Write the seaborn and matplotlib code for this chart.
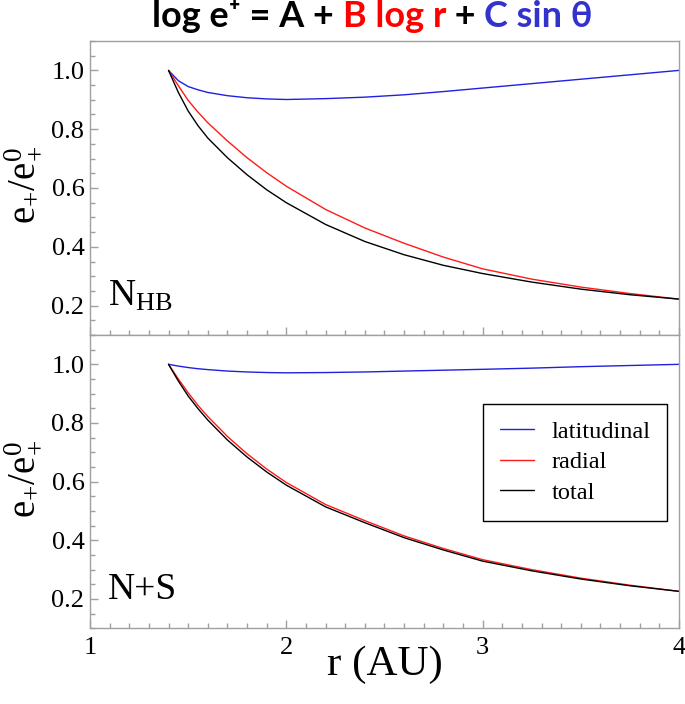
import matplotlib
matplotlib.use("Agg")
import matplotlib.pyplot as plt
import seaborn as sns
import pandas as pd
from matplotlib.ticker import MultipleLocator, FormatStrFormatter

# ---------------- data ----------------
r = [1.4, 1.45, 1.5, 1.55, 1.6, 1.7, 1.8, 1.9, 2.0, 2.2, 2.4, 2.6, 2.8, 3.0, 3.25, 3.5, 3.75, 4.0]

top_lat = [1.0, 0.965, 0.945, 0.934, 0.925, 0.914, 0.907, 0.903, 0.901, 0.904, 0.909, 0.917, 0.928, 0.940, 0.955, 0.970, 0.985, 1.0]
top_rad = [1.0, 0.948, 0.898, 0.858, 0.822, 0.760, 0.703, 0.652, 0.606, 0.527, 0.464, 0.412, 0.365, 0.325, 0.290, 0.263, 0.241, 0.222]
top_tot = [1.0, 0.925, 0.862, 0.812, 0.770, 0.703, 0.645, 0.594, 0.550, 0.476, 0.418, 0.373, 0.337, 0.309, 0.280, 0.256, 0.237, 0.222]

bot_lat = [1.0, 0.994, 0.989, 0.985, 0.982, 0.977, 0.974, 0.972, 0.971, 0.972, 0.974, 0.977, 0.980, 0.983, 0.987, 0.992, 0.996, 1.0]
bot_rad = [1.0, 0.950, 0.903, 0.860, 0.822, 0.754, 0.695, 0.643, 0.597, 0.522, 0.467, 0.415, 0.372, 0.334, 0.300, 0.271, 0.247, 0.226]
bot_tot = [1.0, 0.943, 0.892, 0.849, 0.810, 0.742, 0.684, 0.633, 0.588, 0.514, 0.460, 0.409, 0.367, 0.329, 0.296, 0.268, 0.245, 0.226]

components = ["latitudinal", "radial", "total"]
panel_labels = [r"$\mathrm{N}_{\mathrm{HB}}$", "N+S"]
x_ticks = [1, 2, 3, 4]
y_ticks = [0.2, 0.4, 0.6, 0.8, 1.0]

palette = {"latitudinal": "#2020e0", "radial": "#ff1a1a", "total": "#000000"}

def make_df(lat, rad, tot):
    rows = []
    for name, vals in zip(components, [lat, rad, tot]):
        for xv, yv in zip(r, vals):
            rows.append({"r": xv, "value": yv, "component": name})
    return pd.DataFrame(rows)

df_top = make_df(top_lat, top_rad, top_tot)
df_bot = make_df(bot_lat, bot_rad, bot_tot)

# ---------------- style ----------------
sns.set_style("ticks")
plt.rcParams["font.family"] = ["Liberation Serif", "DejaVu Serif"]
plt.rcParams["mathtext.fontset"] = "custom"
plt.rcParams["mathtext.rm"] = "Liberation Serif"
plt.rcParams["mathtext.it"] = "Liberation Serif:italic"
plt.rcParams["text.color"] = "black"
plt.rcParams["axes.labelcolor"] = "black"
plt.rcParams["xtick.labelcolor"] = "black"
plt.rcParams["ytick.labelcolor"] = "black"
plt.rcParams["xtick.labelsize"] = 19
plt.rcParams["ytick.labelsize"] = 19

fig = plt.figure(figsize=(6.85, 7.04), dpi=100)
W, H = 685, 704
left, right = 90 / W, 679 / W
ax1 = fig.add_axes([left, 1 - 335 / H, right - left, (335 - 41) / H])
ax2 = fig.add_axes([left, 1 - 628.3 / H, right - left, (628.3 - 335) / H])

spine_col = "#a0a0a0"
for ax, df, lab in [(ax1, df_top, panel_labels[0]), (ax2, df_bot, panel_labels[1])]:
    sns.lineplot(data=df, x="r", y="value", hue="component", hue_order=components,
                 palette=palette, linewidth=1.0, errorbar=None, ax=ax,
                 legend=(ax is ax2))
    ax.set_xlim(1, 4)
    ax.set_ylim(0.1, 1.1)
    ax.set_xticks(x_ticks)
    ax.set_yticks(y_ticks)
    ax.xaxis.set_minor_locator(MultipleLocator(0.1))
    ax.yaxis.set_minor_locator(MultipleLocator(0.05))
    ax.yaxis.set_major_formatter(FormatStrFormatter("%.1f"))
    ax.tick_params(which="both", direction="in", top=False, right=False,
                   color=spine_col, width=1.0, labelcolor="black")
    ax.tick_params(which="major", length=6, labelsize=19, pad=4)
    ax.tick_params(which="minor", length=3.5)
    for s in ax.spines.values():
        s.set_color(spine_col)
        s.set_linewidth(1.0)
    ax.set_ylabel(r"$\mathrm{e}_{+}/\mathrm{e}_{+}^{0}$", fontsize=28, color="black")
    ax.yaxis.set_label_coords(-0.082, 0.51)
    ax.text(0.03, 0.1, lab, transform=ax.transAxes, fontsize=27,
            ha="left", va="baseline", color="black")

ax1.set_xlabel("")
ax1.tick_params(axis="x", labelbottom=False)
ax2.set_xlabel("r (AU)", fontsize=31, color="black")
ax2.xaxis.set_label_coords(0.5, -0.058)
ax2.xaxis.label.set_va("top")
ax2.tick_params(axis="x", pad=6)

for ax in (ax1, ax2):
    for t in ax.get_xticklabels() + ax.get_yticklabels():
        t.set_fontsize(19)
        t.set_fontfamily(["Liberation Serif", "DejaVu Serif"])

leg = ax2.legend(loc="upper right", bbox_to_anchor=(0.98, 0.765), fontsize=17.5,
                 frameon=True, fancybox=False, framealpha=1, edgecolor="black",
                 handlelength=1.4, handletextpad=0.7, labelspacing=0.35,
                 borderpad=0.7, borderaxespad=0.0, title=None)
leg.get_frame().set_linewidth(1.0)
for h in leg.get_lines():
    h.set_linewidth(1.0)
for t in leg.get_texts():
    t.set_color("black")

# ---------------- multicolor title ----------------
parts = [("log e\u207a = A + ", "black"), ("B log r", "#ff0000"),
         (" + ", "black"), ("C sin \u03b8", "#3333cc")]
title_kw = dict(fontfamily=["Lato", "DejaVu Sans"], fontweight="bold")
renderer = fig.canvas.get_renderer()
full = "".join(p for p, _ in parts)
probe = fig.text(0, 0, full, fontsize=20, **title_kw)
w20 = probe.get_window_extent(renderer).width
probe.remove()
fs = 20 * 439.0 / w20
bar = fig.text(0, 0, "|", fontsize=fs, **title_kw)
wbar = bar.get_window_extent(renderer).width
bar.remove()
probe = fig.text(0, 0, full, fontsize=fs, **title_kw)
wfull = probe.get_window_extent(renderer).width
probe.remove()
x0 = 372.5 - wfull / 2
prefix = ""
for s, c in parts:
    if prefix:
        t = fig.text(0, 0, prefix + "|", fontsize=fs, **title_kw)
        off = t.get_window_extent(renderer).width - wbar
        t.remove()
    else:
        off = 0
    fig.text((x0 + off) / W, 1 - 27 / H, s, color=c, fontsize=fs,
             ha="left", va="baseline", **title_kw)
    prefix += s

fig.savefig("out.png", dpi=100)
